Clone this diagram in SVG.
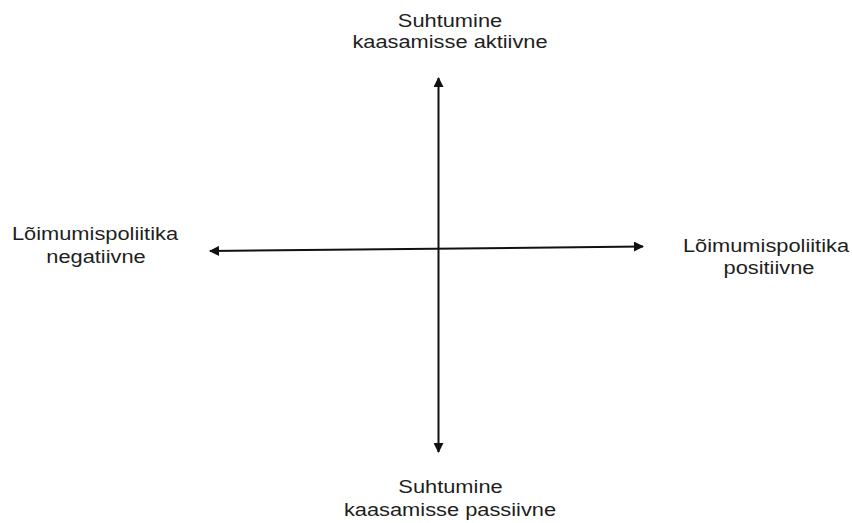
<svg xmlns="http://www.w3.org/2000/svg" width="852" height="523" viewBox="0 0 852 523">
<style>
.t{font-family:"Liberation Sans",Arial,sans-serif;font-size:18.5px;fill:#1e1e1e;text-anchor:middle}
.ax{stroke:#111;stroke-width:2;fill:none}
</style>
<defs>
<marker id="ah" viewBox="0 0 10 10" refX="9" refY="5" markerWidth="15" markerHeight="10" markerUnits="userSpaceOnUse" orient="auto-start-reverse">
<path d="M0,0 L10,5 L0,10 z" fill="#111"/>
</marker>
</defs>
<rect width="852" height="523" fill="#fff"/>
<g id="connectors">
<line class="ax" x1="438.5" y1="78" x2="438.5" y2="452" marker-start="url(#ah)" marker-end="url(#ah)"/>
<line class="ax" x1="210" y1="251" x2="643" y2="246.5" marker-start="url(#ah)" marker-end="url(#ah)"/>
</g>
<g id="top"><text class="t" transform="translate(450,26.5) scale(1.18,1)">Suhtumine</text><text class="t" transform="translate(450,48) scale(1.18,1)">kaasamisse aktiivne</text></g>
<g id="left"><text class="t" transform="translate(95,240) scale(1.18,1)">Lõimumispoliitika</text><text class="t" transform="translate(96,263) scale(1.18,1)">negatiivne</text></g>
<g id="right"><text class="t" transform="translate(766,252) scale(1.18,1)">Lõimumispoliitika</text><text class="t" transform="translate(769,273.5) scale(1.18,1)">positiivne</text></g>
<g id="bottom"><text class="t" transform="translate(450.5,493) scale(1.18,1)">Suhtumine</text><text class="t" transform="translate(450,515.5) scale(1.18,1)">kaasamisse passiivne</text></g>
</svg>
